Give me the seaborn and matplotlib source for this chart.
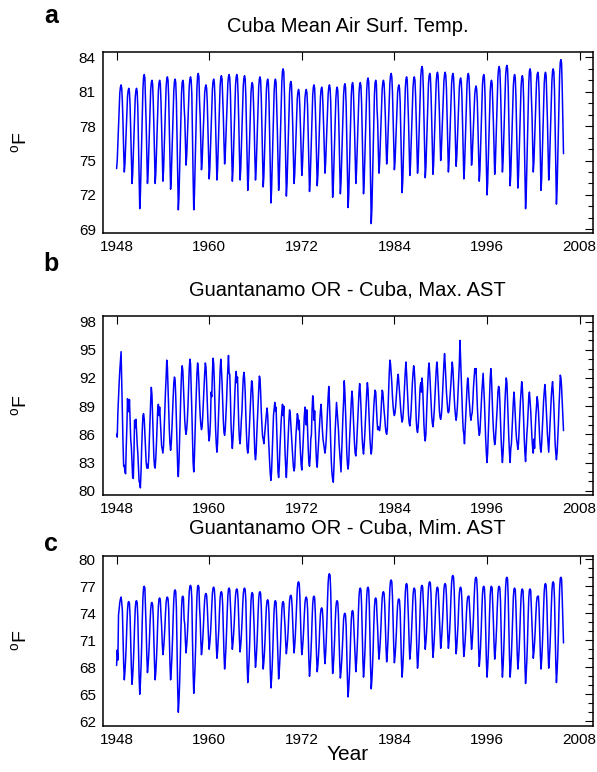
import matplotlib
matplotlib.use("Agg")
import matplotlib.pyplot as plt
import pandas as pd
import seaborn as sns
from matplotlib.ticker import MultipleLocator

sns.set_theme(style="white")
plt.rcParams['font.family'] = ['Liberation Sans', 'DejaVu Sans']
plt.rcParams['mathtext.fontset'] = 'custom'
plt.rcParams['mathtext.rm'] = 'Liberation Sans'
plt.rcParams['text.color'] = 'black'
plt.rcParams['axes.labelcolor'] = 'black'
plt.rcParams['xtick.color'] = 'black'
plt.rcParams['ytick.color'] = 'black'

years = list(range(1948, 2006))
months = list(range(1, 13))
x_ticks = [1948, 1960, 1972, 1984, 1996, 2008]

titles = ["Cuba Mean Air Surf. Temp.",
          "Guantanamo OR - Cuba, Max. AST",
          "Guantanamo OR - Cuba, Mim. AST"]
panel_letters = ["a", "b", "c"]

# Monthly values (Jan..Dec) per year, 1948-2005
mean_ast = [
    [74.3, 75.0, 76.5, 78.0, 79.4, 80.9, 81.4, 81.6, 81.3, 80.1, 78.2, 75.9],
    [74.0, 74.7, 76.2, 77.7, 79.1, 80.6, 81.1, 81.3, 81.0, 79.8, 77.6, 75.1],
    [73.0, 73.8, 75.5, 77.2, 78.8, 80.5, 81.1, 81.3, 81.0, 79.6, 76.6, 73.4],
    [70.8, 72.0, 74.3, 76.7, 79.0, 81.3, 82.3, 82.5, 82.2, 80.2, 78.2, 75.4],
    [73.0, 73.9, 75.7, 77.5, 79.3, 81.1, 81.8, 82.0, 81.7, 80.2, 78.0, 75.3],
    [73.0, 73.9, 75.7, 77.5, 79.3, 81.1, 81.8, 82.0, 81.7, 80.2, 78.0, 75.4],
    [73.2, 74.1, 75.9, 77.8, 79.6, 81.4, 82.1, 82.3, 82.0, 80.5, 77.9, 75.0],
    [72.5, 73.5, 75.4, 77.3, 79.2, 81.1, 81.9, 82.1, 81.8, 80.2, 77.0, 73.6],
    [70.7, 71.8, 74.1, 76.4, 78.6, 80.9, 81.8, 82.0, 81.7, 79.7, 78.7, 76.5],
    [74.6, 75.4, 76.9, 78.5, 80.0, 81.5, 82.1, 82.3, 82.0, 80.8, 77.1, 73.6],
    [70.7, 71.9, 74.3, 76.7, 79.0, 81.4, 82.4, 82.6, 82.3, 80.2, 78.8, 76.3],
    [74.2, 74.9, 76.4, 77.9, 79.4, 80.9, 81.4, 81.6, 81.3, 80.1, 77.9, 75.5],
    [73.4, 74.3, 76.0, 77.8, 79.5, 81.2, 81.9, 82.1, 81.8, 80.4, 78.1, 75.5],
    [73.3, 74.2, 76.0, 77.9, 79.7, 81.5, 82.2, 82.4, 82.1, 80.6, 78.9, 76.6],
    [74.7, 75.5, 77.0, 78.6, 80.2, 81.7, 82.3, 82.5, 82.2, 80.9, 78.3, 75.5],
    [73.2, 74.1, 76.0, 77.9, 79.7, 81.6, 82.3, 82.5, 82.2, 80.6, 78.4, 75.6],
    [73.3, 74.2, 76.0, 77.9, 79.7, 81.5, 82.2, 82.4, 82.1, 80.6, 77.9, 74.9],
    [72.4, 73.3, 75.2, 77.1, 79.0, 80.9, 81.6, 81.8, 81.5, 79.9, 78.0, 75.4],
    [73.3, 74.2, 76.0, 77.8, 79.6, 81.4, 82.1, 82.3, 82.0, 80.5, 78.0, 75.1],
    [72.7, 73.6, 75.5, 77.4, 79.3, 81.2, 81.9, 82.1, 81.8, 80.2, 77.2, 74.0],
    [71.3, 72.4, 74.5, 76.7, 78.9, 81.0, 81.9, 82.1, 81.8, 79.9, 77.7, 74.8],
    [72.4, 73.5, 75.6, 77.7, 79.8, 81.9, 82.8, 83.0, 82.7, 80.9, 78.0, 74.7],
    [71.9, 72.9, 74.9, 76.9, 78.9, 80.9, 81.7, 81.9, 81.6, 79.9, 77.9, 75.2],
    [73.0, 73.8, 75.5, 77.1, 78.7, 80.4, 81.0, 81.2, 80.9, 79.6, 77.8, 75.6],
    [73.7, 74.5, 76.0, 77.5, 79.0, 80.5, 81.0, 81.2, 80.9, 79.7, 77.2, 74.5],
    [72.3, 73.2, 75.1, 77.0, 78.8, 80.7, 81.4, 81.6, 81.3, 79.7, 77.6, 75.0],
    [72.8, 73.7, 75.4, 77.1, 78.8, 80.5, 81.2, 81.4, 81.1, 79.7, 78.0, 75.8],
    [73.9, 74.7, 76.2, 77.8, 79.3, 80.8, 81.4, 81.6, 81.3, 80.1, 77.2, 74.3],
    [71.8, 72.8, 74.7, 76.6, 78.5, 80.4, 81.2, 81.4, 81.1, 79.5, 77.2, 74.4],
    [72.1, 73.1, 75.0, 76.9, 78.8, 80.7, 81.5, 81.7, 81.4, 79.8, 76.8, 73.6],
    [70.9, 72.0, 74.2, 76.4, 78.5, 80.7, 81.6, 81.8, 81.5, 79.6, 77.8, 75.2],
    [73.0, 73.9, 75.6, 77.4, 79.2, 80.9, 81.6, 81.8, 81.5, 80.0, 77.4, 74.5],
    [72.1, 73.1, 75.1, 77.2, 79.2, 81.2, 82.0, 82.2, 81.9, 80.2, 76.5, 72.7],
    [69.5, 70.8, 73.3, 75.8, 78.3, 80.8, 81.8, 82.0, 81.7, 79.5, 78.4, 75.9],
    [73.9, 74.7, 76.3, 78.0, 79.6, 81.2, 81.8, 82.0, 81.7, 80.4, 78.7, 76.5],
    [74.7, 75.5, 77.1, 78.7, 80.2, 81.8, 82.4, 82.6, 82.3, 81.0, 78.8, 76.3],
    [74.2, 74.9, 76.4, 77.9, 79.4, 80.9, 81.4, 81.6, 81.3, 80.1, 77.4, 74.6],
    [72.2, 73.2, 75.2, 77.3, 79.3, 81.3, 82.1, 82.3, 82.0, 80.3, 78.4, 75.9],
    [73.7, 74.6, 76.3, 78.0, 79.7, 81.4, 82.1, 82.3, 82.0, 80.6, 78.5, 76.0],
    [73.9, 74.8, 76.7, 78.6, 80.4, 82.3, 83.0, 83.2, 82.9, 81.3, 78.8, 75.9],
    [73.5, 74.4, 76.2, 78.1, 79.9, 81.7, 82.4, 82.6, 82.3, 80.8, 78.6, 76.0],
    [73.8, 74.7, 76.5, 78.3, 80.0, 81.8, 82.5, 82.7, 82.4, 80.9, 79.2, 76.9],
    [75.0, 75.8, 77.3, 78.9, 80.4, 81.9, 82.5, 82.7, 82.4, 81.2, 78.8, 76.2],
    [74.0, 74.9, 76.6, 78.3, 80.0, 81.7, 82.4, 82.6, 82.3, 80.9, 79.0, 76.5],
    [74.5, 75.3, 76.8, 78.4, 79.9, 81.4, 82.0, 82.2, 81.9, 80.7, 78.2, 75.6],
    [73.4, 74.3, 76.2, 78.0, 79.8, 81.7, 82.4, 82.6, 82.3, 80.8, 79.0, 76.6],
    [74.6, 75.3, 76.7, 78.1, 79.4, 80.8, 81.3, 81.5, 81.2, 80.1, 77.8, 75.3],
    [73.2, 74.1, 76.0, 77.9, 79.7, 81.6, 82.3, 82.5, 82.2, 80.6, 77.8, 74.6],
    [72.0, 73.0, 75.0, 77.0, 79.0, 81.0, 81.8, 82.0, 81.7, 80.0, 78.3, 75.9],
    [73.8, 74.7, 76.6, 78.5, 80.4, 82.3, 83.0, 83.2, 82.9, 81.3, 79.1, 76.3],
    [74.0, 74.9, 76.8, 78.7, 80.5, 82.4, 83.1, 83.3, 83.0, 81.4, 78.6, 75.4],
    [72.8, 73.8, 75.7, 77.7, 79.6, 81.5, 82.3, 82.5, 82.2, 80.6, 78.0, 75.1],
    [72.6, 73.6, 75.5, 77.5, 79.5, 81.4, 82.2, 82.4, 82.1, 80.4, 77.2, 73.7],
    [70.8, 72.0, 74.5, 76.9, 79.3, 81.8, 82.8, 83.0, 82.7, 80.6, 79.0, 76.3],
    [74.0, 74.9, 76.6, 78.4, 80.1, 81.8, 82.5, 82.7, 82.4, 81.0, 78.1, 75.0],
    [72.4, 73.4, 75.5, 77.6, 79.6, 81.7, 82.5, 82.7, 82.4, 80.6, 78.5, 75.7],
    [73.3, 74.3, 76.2, 78.2, 80.1, 82.0, 82.8, 83.0, 82.7, 81.1, 77.7, 74.2],
    [71.2, 72.5, 75.0, 77.5, 80.0, 82.5, 83.6, 83.8, 83.5, 81.3, 78.5, 75.6],
]

max_ast = [
    [86.0, 85.7, 88.3, 90.0, 91.5, 92.8, 93.8, 94.8, 91.5, 88.5, 85.0, 82.6],
    [82.7, 82.0, 81.8, 84.6, 86.8, 89.8, 88.6, 88.4, 89.7, 87.5, 85.4, 84.6],
    [83.0, 81.4, 81.3, 84.0, 87.5, 86.7, 87.6, 86.5, 85.0, 84.0, 82.5, 81.0],
    [80.8, 80.3, 82.0, 84.5, 86.5, 88.0, 88.2, 87.6, 86.0, 84.5, 83.0, 82.4],
    [82.8, 82.4, 83.5, 85.5, 87.5, 89.5, 91.0, 90.2, 88.0, 85.5, 83.5, 82.6],
    [82.4, 83.5, 85.0, 87.0, 88.8, 89.2, 88.0, 88.9, 87.5, 86.0, 84.8, 84.4],
    [84.0, 84.7, 86.5, 88.5, 90.5, 92.0, 93.9, 93.2, 91.0, 88.5, 86.5, 85.0],
    [84.3, 85.0, 86.5, 88.3, 90.0, 91.5, 92.1, 91.8, 90.0, 87.5, 85.0, 82.5],
    [81.5, 83.0, 85.5, 88.0, 90.5, 92.5, 93.3, 92.8, 91.0, 89.0, 87.5, 86.5],
    [86.0, 86.5, 87.5, 89.0, 91.0, 93.0, 94.0, 93.5, 91.0, 88.5, 85.5, 83.0],
    [82.0, 83.5, 86.0, 88.5, 90.5, 92.5, 93.6, 93.0, 91.5, 89.5, 88.0, 87.0],
    [86.5, 86.8, 88.0, 89.5, 91.0, 92.5, 93.6, 93.2, 91.5, 89.5, 87.5, 86.0],
    [85.3, 86.0, 87.5, 90.5, 90.0, 92.5, 94.1, 93.5, 91.5, 89.0, 86.5, 85.0],
    [84.1, 85.0, 87.0, 89.0, 91.0, 92.8, 94.0, 93.0, 91.5, 89.5, 87.5, 86.2],
    [85.9, 86.5, 88.0, 89.5, 91.5, 93.0, 94.4, 92.5, 92.4, 90.0, 87.0, 85.5],
    [84.5, 85.5, 87.0, 88.5, 90.5, 92.0, 92.7, 91.5, 92.1, 89.5, 87.0, 85.5],
    [85.0, 86.0, 87.5, 88.5, 90.5, 92.0, 92.6, 92.0, 90.5, 88.0, 86.0, 84.5],
    [84.0, 84.5, 86.0, 87.5, 89.0, 90.5, 91.7, 91.5, 90.0, 88.0, 86.0, 84.0],
    [83.3, 84.0, 86.0, 87.5, 89.0, 90.5, 92.2, 92.0, 90.5, 88.5, 87.0, 85.8],
    [85.5, 85.0, 85.8, 86.5, 87.5, 88.2, 88.8, 88.0, 86.0, 84.5, 83.0, 81.8],
    [81.1, 82.0, 84.0, 86.0, 88.0, 88.7, 89.4, 88.5, 88.9, 86.5, 84.0, 82.0],
    [81.4, 82.5, 84.5, 86.0, 87.5, 88.5, 89.2, 88.0, 89.0, 86.5, 84.0, 82.5],
    [81.4, 82.8, 84.5, 86.0, 87.5, 88.6, 88.2, 87.0, 86.0, 84.5, 83.5, 82.5],
    [82.1, 82.5, 84.5, 86.0, 87.0, 88.2, 88.0, 86.5, 87.5, 85.5, 84.0, 82.8],
    [82.2, 83.5, 85.0, 86.5, 88.0, 88.9, 88.5, 87.0, 88.6, 86.5, 84.5, 83.0],
    [82.6, 83.5, 85.5, 86.0, 88.5, 90.1, 89.5, 87.5, 88.5, 86.5, 84.5, 83.0],
    [82.5, 83.8, 85.0, 86.5, 87.5, 88.5, 89.2, 88.0, 86.5, 85.5, 85.0, 84.5],
    [84.0, 84.5, 85.5, 87.0, 88.5, 90.0, 91.1, 89.5, 87.5, 85.0, 83.0, 81.8],
    [81.2, 80.9, 82.5, 84.5, 86.5, 88.0, 89.4, 88.5, 87.5, 86.5, 85.0, 84.0],
    [83.0, 82.0, 84.0, 86.0, 88.0, 89.5, 91.7, 90.5, 88.5, 86.5, 84.0, 82.8],
    [82.3, 83.0, 85.0, 86.5, 88.0, 89.5, 90.6, 89.8, 88.0, 86.5, 85.0, 84.0],
    [83.7, 84.5, 86.0, 87.5, 89.0, 90.5, 91.4, 90.5, 89.0, 87.0, 85.5, 84.5],
    [83.9, 84.8, 86.0, 87.5, 89.0, 90.5, 91.5, 90.8, 89.0, 87.0, 85.5, 84.5],
    [83.9, 84.5, 86.0, 87.5, 89.0, 90.0, 90.7, 90.5, 89.0, 87.5, 86.5, 86.8],
    [86.5, 86.4, 87.0, 88.0, 89.5, 90.7, 90.5, 89.5, 88.5, 87.8, 86.8, 86.2],
    [86.0, 86.5, 88.5, 90.5, 92.5, 93.9, 93.5, 92.5, 91.5, 90.0, 89.0, 88.3],
    [88.0, 88.3, 89.0, 90.0, 91.0, 92.0, 92.4, 91.5, 90.5, 89.5, 88.5, 87.8],
    [87.3, 87.6, 88.5, 90.0, 91.5, 92.8, 93.7, 92.5, 91.0, 89.5, 88.0, 87.2],
    [86.9, 87.5, 88.5, 90.0, 91.5, 92.5, 93.3, 92.8, 91.5, 89.5, 87.5, 86.5],
    [86.2, 86.8, 88.0, 89.5, 91.0, 91.5, 90.5, 92.0, 91.0, 89.0, 87.0, 85.8],
    [85.3, 86.0, 88.0, 90.0, 91.5, 93.0, 93.6, 92.5, 91.0, 89.5, 88.0, 87.2],
    [86.8, 87.5, 88.5, 90.0, 91.5, 92.8, 93.7, 93.0, 91.5, 90.0, 88.5, 87.8],
    [87.6, 88.0, 89.0, 90.5, 92.0, 93.5, 94.6, 93.5, 92.0, 90.5, 89.5, 88.5],
    [88.3, 88.5, 89.5, 90.5, 91.5, 92.8, 93.7, 93.0, 91.5, 90.0, 88.8, 88.0],
    [87.5, 88.0, 89.0, 90.5, 92.0, 93.5, 96.0, 94.0, 92.0, 90.0, 88.0, 86.5],
    [86.0, 85.0, 86.5, 88.0, 89.5, 91.0, 92.0, 91.5, 90.0, 89.0, 88.0, 87.5],
    [88.0, 88.3, 89.5, 91.0, 92.0, 93.0, 92.5, 93.0, 91.0, 89.0, 87.5, 86.5],
    [85.9, 86.2, 87.5, 89.0, 90.5, 91.5, 92.5, 91.0, 89.5, 87.5, 85.5, 84.0],
    [83.0, 84.0, 86.0, 88.0, 90.0, 92.0, 93.0, 92.0, 90.0, 88.0, 86.5, 85.5],
    [84.9, 85.3, 86.5, 87.5, 89.0, 90.5, 91.1, 91.0, 89.5, 87.5, 85.5, 84.0],
    [83.0, 84.0, 85.5, 87.5, 89.5, 91.0, 92.0, 91.5, 89.5, 87.5, 85.5, 84.0],
    [83.0, 84.5, 85.0, 86.5, 88.0, 89.5, 90.5, 89.5, 88.0, 86.5, 85.5, 85.0],
    [84.4, 85.0, 86.5, 88.0, 89.5, 90.5, 91.6, 91.0, 89.5, 87.5, 85.5, 84.0],
    [83.1, 84.5, 86.0, 87.0, 88.5, 90.0, 90.5, 89.5, 88.5, 87.0, 85.5, 84.5],
    [84.0, 85.5, 84.5, 86.5, 88.0, 89.0, 90.0, 89.5, 88.5, 87.0, 85.5, 84.5],
    [84.1, 85.0, 86.5, 88.0, 89.5, 90.5, 91.3, 90.5, 89.0, 87.5, 86.0, 85.0],
    [84.1, 85.5, 87.0, 88.5, 90.0, 91.0, 91.6, 90.5, 89.0, 87.0, 85.0, 84.0],
    [83.3, 84.0, 85.5, 87.0, 89.0, 90.5, 92.3, 92.0, 91.0, 89.5, 88.0, 86.4],
]

min_ast = [
    [68.2, 69.9, 68.8, 73.8, 74.5, 75.2, 75.6, 75.8, 75.2, 74.3, 71.2, 68.4],
    [66.6, 67.5, 68.8, 70.5, 72.7, 74.4, 75.2, 75.3, 75.1, 73.6, 70.7, 67.9],
    [66.1, 67.0, 68.4, 70.3, 72.6, 74.5, 75.3, 75.4, 75.2, 73.5, 70.2, 67.1],
    [65.0, 66.2, 68.0, 70.4, 73.4, 75.8, 76.9, 77.0, 76.8, 74.6, 72.2, 69.3],
    [67.4, 68.2, 69.4, 70.9, 72.9, 74.4, 75.1, 75.2, 75.0, 73.6, 70.9, 68.3],
    [66.6, 67.5, 68.9, 70.7, 73.0, 74.8, 75.6, 75.7, 75.5, 73.9, 72.6, 70.7],
    [69.4, 70.0, 71.0, 72.3, 73.9, 75.2, 75.7, 75.8, 75.6, 74.5, 71.2, 68.4],
    [66.6, 67.6, 69.1, 71.1, 73.6, 75.6, 76.5, 76.6, 76.4, 74.6, 69.8, 65.7],
    [63.0, 64.3, 66.2, 68.8, 72.0, 74.6, 75.8, 75.9, 75.7, 73.3, 72.8, 70.9],
    [69.6, 70.4, 71.5, 73.0, 74.9, 76.4, 77.0, 77.1, 76.9, 75.6, 71.1, 67.5],
    [65.1, 66.3, 68.1, 70.5, 73.5, 75.9, 77.0, 77.1, 76.9, 74.7, 73.3, 70.9],
    [69.4, 70.1, 71.1, 72.5, 74.2, 75.5, 76.1, 76.2, 76.0, 74.8, 73.1, 71.2],
    [70.0, 70.7, 71.7, 73.1, 74.8, 76.2, 76.8, 76.9, 76.7, 75.5, 73.0, 70.6],
    [69.0, 69.7, 70.9, 72.3, 74.2, 75.7, 76.3, 76.4, 76.2, 74.9, 72.1, 69.5],
    [67.8, 68.7, 70.1, 71.9, 74.1, 75.9, 76.7, 76.8, 76.6, 75.0, 73.4, 71.4],
    [70.0, 70.7, 71.7, 73.0, 74.7, 76.0, 76.6, 76.7, 76.5, 75.4, 73.2, 71.1],
    [69.7, 70.4, 71.5, 72.9, 74.7, 76.1, 76.7, 76.8, 76.6, 75.4, 71.6, 68.4],
    [66.3, 67.3, 68.8, 70.8, 73.3, 75.3, 76.2, 76.3, 76.1, 74.3, 72.2, 69.7],
    [68.0, 68.8, 70.1, 71.8, 73.9, 75.6, 76.3, 76.4, 76.2, 74.7, 72.1, 69.5],
    [67.8, 68.6, 69.7, 71.3, 73.2, 74.7, 75.4, 75.5, 75.3, 74.0, 70.6, 67.7],
    [65.7, 66.7, 68.1, 70.1, 72.5, 74.4, 75.3, 75.4, 75.2, 73.5, 71.1, 68.4],
    [66.7, 67.6, 68.9, 70.6, 72.7, 74.4, 75.2, 75.3, 75.1, 73.6, 72.4, 70.7],
    [69.5, 70.2, 71.1, 72.4, 74.1, 75.4, 75.9, 76.0, 75.8, 74.7, 72.8, 70.9],
    [69.6, 70.4, 71.6, 73.2, 75.1, 76.7, 77.4, 77.5, 77.3, 75.9, 73.5, 71.0],
    [69.4, 70.0, 71.0, 72.3, 73.9, 75.2, 75.7, 75.8, 75.6, 74.5, 71.4, 68.8],
    [67.0, 67.9, 69.2, 71.0, 73.2, 75.0, 75.8, 75.9, 75.7, 74.1, 71.7, 69.2],
    [67.5, 68.2, 69.3, 70.7, 72.5, 73.9, 74.5, 74.6, 74.4, 73.2, 71.5, 69.6],
    [68.4, 69.4, 70.9, 72.9, 75.4, 77.4, 78.3, 78.4, 78.2, 76.4, 72.9, 69.5],
    [67.3, 68.1, 69.3, 71.0, 73.0, 74.6, 75.3, 75.4, 75.2, 73.8, 71.1, 68.5],
    [66.8, 67.5, 68.6, 70.0, 71.8, 73.3, 73.9, 74.0, 73.8, 72.6, 69.4, 66.6],
    [64.7, 65.7, 67.1, 69.0, 71.4, 73.3, 74.2, 74.3, 74.1, 72.4, 70.9, 68.9],
    [67.5, 68.4, 69.8, 71.7, 74.0, 75.9, 76.7, 76.8, 76.6, 74.9, 71.9, 68.9],
    [66.9, 67.9, 69.4, 71.4, 73.9, 75.9, 76.8, 76.9, 76.7, 74.9, 71.3, 67.9],
    [65.6, 66.6, 68.1, 70.1, 72.7, 74.7, 75.6, 75.7, 75.5, 73.7, 72.3, 70.3],
    [68.9, 69.7, 70.8, 72.3, 74.2, 75.7, 76.3, 76.4, 76.2, 74.9, 72.5, 70.2],
    [68.6, 69.5, 70.9, 72.7, 75.0, 76.8, 77.6, 77.7, 77.5, 75.9, 73.1, 70.3],
    [68.5, 69.2, 70.3, 71.7, 73.5, 74.9, 75.5, 75.6, 75.4, 74.2, 71.3, 68.6],
    [66.9, 67.9, 69.5, 71.6, 74.2, 76.3, 77.2, 77.3, 77.1, 75.2, 73.1, 70.6],
    [68.9, 69.7, 70.9, 72.5, 74.4, 76.0, 76.7, 76.8, 76.6, 75.2, 72.4, 69.7],
    [67.9, 68.8, 70.2, 72.0, 74.3, 76.2, 77.0, 77.1, 76.9, 75.3, 73.6, 71.4],
    [70.0, 70.8, 71.9, 73.4, 75.3, 76.8, 77.4, 77.5, 77.3, 76.0, 73.3, 70.8],
    [69.1, 69.9, 71.1, 72.6, 74.6, 76.1, 76.8, 76.9, 76.7, 75.3, 73.5, 71.5],
    [70.1, 70.8, 71.9, 73.3, 75.1, 76.6, 77.2, 77.3, 77.1, 75.9, 73.7, 71.5],
    [70.1, 70.9, 72.1, 73.7, 75.8, 77.4, 78.1, 78.2, 78.0, 76.6, 73.9, 71.2],
    [69.5, 70.2, 71.4, 72.8, 74.7, 76.2, 76.8, 76.9, 76.7, 75.4, 73.1, 70.7],
    [69.2, 69.9, 70.9, 72.2, 73.9, 75.2, 75.8, 75.9, 75.9, 74.6, 73.0, 71.2],
    [70.0, 70.8, 72.0, 73.6, 75.6, 77.2, 77.9, 78.0, 77.8, 76.4, 73.1, 70.1],
    [68.1, 69.0, 70.3, 72.1, 74.3, 76.1, 76.9, 77.0, 76.8, 75.2, 72.0, 68.9],
    [66.9, 67.9, 69.4, 71.4, 74.0, 76.0, 76.9, 77.0, 76.8, 75.0, 73.0, 70.5],
    [68.9, 69.7, 70.9, 72.5, 74.6, 76.2, 76.9, 77.0, 76.8, 75.4, 72.0, 68.9],
    [66.9, 68.0, 69.7, 71.9, 74.7, 76.9, 77.9, 78.0, 77.8, 75.8, 72.5, 69.1],
    [66.9, 67.9, 69.4, 71.4, 73.8, 75.8, 76.7, 76.8, 76.6, 74.8, 72.3, 69.6],
    [67.8, 68.7, 70.0, 71.8, 74.0, 75.8, 76.6, 76.7, 76.5, 74.9, 71.5, 68.3],
    [66.2, 67.3, 68.8, 70.9, 73.6, 75.7, 76.6, 76.7, 76.5, 74.6, 72.9, 70.5],
    [69.0, 69.7, 70.7, 72.1, 73.8, 75.2, 75.8, 75.9, 75.9, 74.5, 71.9, 69.4],
    [67.8, 68.8, 70.2, 72.1, 74.5, 76.4, 77.2, 77.3, 77.1, 75.4, 72.6, 69.8],
    [67.9, 68.9, 70.3, 72.2, 74.6, 76.5, 77.4, 77.5, 77.3, 75.6, 71.9, 68.5],
    [66.3, 67.5, 69.2, 71.6, 74.5, 76.8, 77.9, 78.0, 77.8, 75.7, 73.0, 70.7],
]


def to_frame(values):
    rows = []
    for yr, row in zip(years, values):
        for m, v in zip(months, row):
            rows.append((yr + (m - 1) / 12.0, v))
    return pd.DataFrame(rows, columns=["year", "temp"])


W, H = 597, 772
fig = plt.figure(figsize=(W / 100, H / 100), dpi=100)


def rect(left, top, right, bottom):
    return [left / W, 1 - bottom / H, (right - left) / W, (bottom - top) / H]


panels = [
    dict(data=mean_ast, box=(102.7, 52.3, 592.7, 233.0), ylim=(68.68, 84.44),
         yticks=[69, 72, 75, 78, 81, 84], title_y=27, letter_y=16),
    dict(data=max_ast, box=(102.7, 316.0, 592.7, 495.0), ylim=(79.54, 98.6),
         yticks=[80, 83, 86, 89, 92, 95, 98], title_y=290, letter_y=264),
    dict(data=min_ast, box=(102.7, 555.7, 592.7, 725.7), ylim=(61.5, 80.4),
         yticks=[62, 65, 68, 71, 74, 77, 80], title_y=528, letter_y=544),
]

for i, p in enumerate(panels):
    ax = fig.add_axes(rect(*p["box"]))
    df = to_frame(p["data"])
    sns.lineplot(data=df, x="year", y="temp", ax=ax, color="#0000ff",
                 linewidth=1.1, estimator=None, sort=False)
    ax.set_xlim(1946.2, 2009.7)
    ax.set_ylim(*p["ylim"])
    ax.set_xticks(x_ticks)
    ax.set_yticks(p["yticks"])
    ax.yaxis.set_minor_locator(MultipleLocator(1))
    ax.tick_params(axis="both", which="both", direction="in", top=True,
                   right=True, colors="black", labelcolor="black",
                   labelsize=11, width=0.8)
    ax.tick_params(axis="both", which="major", length=6, pad=5)
    ax.tick_params(axis="y", which="minor", length=3.5)
    ax.tick_params(axis="x", which="minor", length=0)
    for s in ax.spines.values():
        s.set_color("black")
        s.set_linewidth(1.1)
    ax.set_xlabel("")
    ax.set_ylabel("")
    ax.set_facecolor("white")
    cy = (p["box"][1] + p["box"][3]) / 2
    fig.text(21 / W, 1 - cy / H, r"$^{\mathrm{o}}$F", rotation=90,
             ha="center", va="center", fontsize=14, color="black")
    fig.text(347.7 / W, 1 - p["title_y"] / H, titles[i], ha="center",
             va="center", fontsize=14.5, color="black")
    fig.text(51 / W, 1 - p["letter_y"] / H, panel_letters[i], ha="center",
             va="center", fontsize=18, fontweight="bold", color="black")

fig.text(348 / W, 1 - 755 / H, "Year", ha="center", va="center",
         fontsize=15, color="black")

fig.savefig("out.png", dpi=100, facecolor="white")
